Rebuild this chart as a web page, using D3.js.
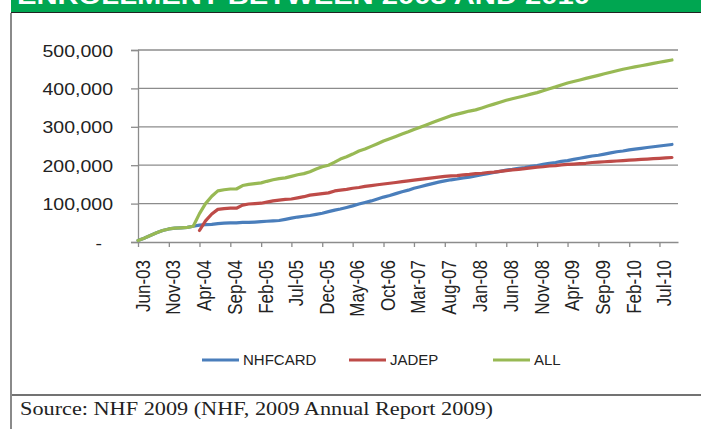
<!DOCTYPE html>
<html>
<head>
<meta charset="utf-8">
<script src="https://cdn.jsdelivr.net/npm/d3@7/dist/d3.min.js"></script>
<style>
    body { margin: 0; background: #fff; }
    svg { display: block; }
</style>
</head>
<body>
<svg width="701" height="429"></svg>
<script>
// monthly enrolment, thousands, Jun-03 .. Sep-10
const firstMonth = new Date(2003, 5, 1);
const lastAxisMonth = new Date(2010, 9, 1);

const nhfcard = [
    4, 10, 17, 24, 30, 34, 36, 37, 38, 41,
    44, 45, 46, 48, 49, 50, 50, 51, 51, 52,
    53, 54, 55, 56, 59, 62, 65, 67, 69, 72,
    75, 79, 83, 86, 90, 94, 99, 103, 107, 112,
    117, 121, 126, 131, 135, 140, 144, 148, 152, 156,
    159, 162, 164, 167, 169, 172, 175, 178, 181, 184,
    187, 189, 192, 194, 197, 199, 202, 205, 207, 210,
    212, 215, 218, 221, 224, 226, 229, 232, 235, 237,
    240, 242, 244, 246, 248, 250, 252, 254
];

// JADEP starts Apr-04
const jadep = [
    null, null, null, null, null, null, null, null, null, null,
    30, 55, 73, 85, 87, 88, 88, 96, 99, 100,
    101, 104, 107, 109, 111, 112, 115, 118, 122, 124,
    126, 128, 133, 135, 137, 140, 142, 145, 147, 149,
    151, 153, 155, 157, 159, 161, 163, 165, 167, 169,
    171, 172, 173, 175, 176, 178, 179, 181, 182, 184,
    186, 188, 189, 191, 193, 195, 196, 198, 199, 201,
    202, 203, 204, 205, 207, 208, 209, 210, 211, 212,
    213, 214, 215, 216, 217, 218, 219, 220
];

const all = [
    4, 10, 17, 24, 30, 34, 36, 37, 38, 41,
    74, 100, 119, 133, 136, 138, 138, 147, 150, 152,
    154, 158, 162, 165, 167, 171, 175, 178, 183, 190,
    196, 200, 208, 216, 222, 229, 237, 242, 249, 256,
    263, 269, 275, 281, 287, 293, 299, 305, 311, 317,
    323, 329, 333, 337, 341, 344, 349, 354, 359, 364,
    369, 373, 377, 381, 385, 389, 394, 399, 404, 409,
    414, 418, 422, 426, 430, 434, 438, 442, 446, 450,
    453, 456, 459, 462, 465, 468, 471, 474
];

const seriesNames = ['NHFCARD', 'JADEP', 'ALL'];
const seriesColors = ['#4a7ebb', '#be4b48', '#98b954'];

const yTicks = [0, 100, 200, 300, 400, 500];
const yTickLabels = ['-', '100,000', '200,000', '300,000', '400,000', '500,000'];

const xTickLabels = [
    'Jun-03', 'Nov-03', 'Apr-04', 'Sep-04', 'Feb-05', 'Jul-05',
    'Dec-05', 'May-06', 'Oct-06', 'Mar-07', 'Aug-07', 'Jan-08',
    'Jun-08', 'Nov-08', 'Apr-09', 'Sep-09', 'Feb-10', 'Jul-10'
];

const titleText = 'ENROLLMENT BETWEEN 2003 AND 2010';
const sourceText = 'Source: NHF 2009 (NHF, 2009 Annual Report 2009)';

const FONT = '"Liberation Sans", Arial, sans-serif';
const SX = 1.22; // chart text is a bit stretched sideways

const svg = d3.select('svg');

const plot = { left: 138, right: 678, top: 50, bottom: 242 };

const x = d3.scaleTime()
    .domain([firstMonth, lastAxisMonth])
    .range([plot.left, plot.right]);

const y = d3.scaleLinear()
    .domain([0, 500])
    .range([plot.bottom, plot.top]);

const monthOf = i => d3.timeMonth.offset(firstMonth, i);

// frame: banner, left rule, bottom rule
svg.append('rect')
    .attr('x', 11).attr('y', 0)
    .attr('width', 690).attr('height', 12)
    .attr('fill', '#00a651');

svg.append('text')
    .attr('x', 17).attr('y', 4)
    .attr('fill', '#fff')
    .attr('font-family', FONT)
    .attr('font-weight', 'bold')
    .attr('font-size', 24)
    .attr('textLength', 573)
    .attr('lengthAdjust', 'spacingAndGlyphs')
    .text(titleText);

svg.append('line')
    .attr('x1', 11).attr('x2', 701)
    .attr('y1', 12.5).attr('y2', 12.5)
    .attr('stroke', '#222').attr('stroke-width', 1.2);

svg.append('line')
    .attr('x1', 11).attr('x2', 11)
    .attr('y1', 13).attr('y2', 429)
    .attr('stroke', '#8a8a8a').attr('stroke-width', 2);

svg.append('line')
    .attr('x1', 12).attr('x2', 701)
    .attr('y1', 395).attr('y2', 395)
    .attr('stroke', '#444').attr('stroke-width', 1.4);

svg.append('text')
    .attr('x', 20).attr('y', 415)
    .attr('fill', '#222')
    .attr('font-family', '"Liberation Serif", "DejaVu Serif", serif')
    .attr('font-size', 18.5)
    .attr('textLength', 473)
    .attr('lengthAdjust', 'spacingAndGlyphs')
    .text(sourceText);

// gridlines
svg.append('g')
    .selectAll('line')
    .data(yTicks.slice(1))
    .enter()
    .append('line')
    .attr('x1', plot.left).attr('x2', plot.right)
    .attr('y1', d => y(d)).attr('y2', d => y(d))
    .attr('stroke', '#8c8c8c')
    .attr('stroke-width', 1.3);

// y axis
const yAxis = svg.append('g')
    .attr('transform', `translate(${plot.left},0)`)
    .call(d3.axisLeft(y)
        .tickValues(yTicks)
        .tickSize(7)
        .tickFormat((d, i) => yTickLabels[i]));

yAxis.select('.domain').attr('stroke', '#8c8c8c').attr('stroke-width', 1.3);
yAxis.selectAll('.tick line').attr('stroke', '#8c8c8c').attr('stroke-width', 1.3);
yAxis.selectAll('.tick text')
    .attr('x', null).attr('dy', null)
    .attr('fill', '#222')
    .attr('font-family', FONT)
    .attr('font-size', 16)
    .attr('text-anchor', 'end')
    .attr('transform', (d, i) => `translate(${i === 0 ? -36 : -25},6) scale(${SX},1)`);

// x axis
const xAxis = svg.append('g')
    .attr('transform', `translate(0,${plot.bottom})`)
    .call(d3.axisBottom(x)
        .tickValues(xTickLabels.map((d, i) => monthOf(i * 5)))
        .tickSize(5)
        .tickSizeOuter(0)
        .tickFormat((d, i) => xTickLabels[i]));

xAxis.select('.domain').attr('stroke', '#8c8c8c').attr('stroke-width', 1.5);
xAxis.selectAll('.tick line').attr('stroke', '#8c8c8c').attr('stroke-width', 1.3);
xAxis.selectAll('.tick text')
    .attr('dy', null)
    .attr('fill', '#222')
    .attr('font-family', FONT)
    .attr('font-size', 17)
    .attr('text-anchor', 'end')
    .attr('x', -18)
    .attr('y', 11 / SX)
    .attr('transform', `rotate(-90) scale(1,${SX})`);

// series lines
const series = [nhfcard, jadep, all];

const line = d3.line()
    .defined(d => d != null)
    .x((d, i) => x(monthOf(i)))
    .y(d => y(d));

svg.append('g')
    .selectAll('path')
    .data(series)
    .enter()
    .append('path')
    .attr('d', d => line(d))
    .attr('fill', 'none')
    .attr('stroke', (d, i) => seriesColors[i])
    .attr('stroke-width', 3.2)
    .attr('stroke-linejoin', 'round')
    .attr('stroke-linecap', 'round');

// legend
const legendX = [202, 349, 493];
const legend = svg.append('g')
    .selectAll('g')
    .data(seriesNames)
    .enter()
    .append('g')
    .attr('transform', (d, i) => `translate(${legendX[i]},360)`);

legend.append('line')
    .attr('x1', 0).attr('x2', 37)
    .attr('stroke', (d, i) => seriesColors[i])
    .attr('stroke-width', 3);

legend.append('text')
    .attr('x', 41).attr('y', 5)
    .attr('fill', '#222')
    .attr('font-family', FONT)
    .attr('font-size', 15)
    .text(d => d);
</script>
</body>
</html>
